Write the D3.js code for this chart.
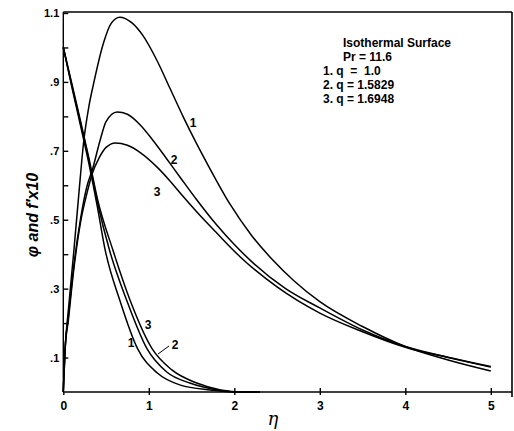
<!DOCTYPE html>
<html><head><meta charset="utf-8">
<script src="https://cdn.jsdelivr.net/npm/d3@7"></script>
<style>body{margin:0;background:#fff}svg{display:block}</style>
</head><body><svg id="c" width="514" height="431"></svg>
<script>
// eta values and curves
const phi1 = [[0,1.0],[0.1,0.885],[0.2,0.775],[0.3,0.662],[0.4,0.535],[0.49,0.412],[0.66,0.267],[0.87,0.125],[1.10,0.055],[1.37,0.020],[1.72,0.006],[2.0,0.0],[2.3,0.0]];
const phi2 = [[0,1.0],[0.1,0.89],[0.2,0.782],[0.3,0.672],[0.4,0.55],[0.54,0.412],[0.74,0.267],[0.98,0.125],[1.21,0.058],[1.48,0.026],[1.80,0.006],[2.05,0.0],[2.3,0.0]];
const phi3 = [[0,1.0],[0.1,0.895],[0.2,0.788],[0.3,0.678],[0.4,0.56],[0.58,0.412],[0.78,0.267],[1.04,0.125],[1.27,0.064],[1.56,0.026],[1.84,0.006],[2.1,0.0],[2.3,0.0]];
const vel1 = [[0,0],[0.02,0.12],[0.06,0.24],[0.12,0.40],[0.18,0.57],[0.24,0.73],[0.3,0.83],[0.35,0.89],[0.47,1.013],[0.56,1.07],[0.66,1.088],[0.8,1.072],[0.93,1.035],[1.1,0.96],[1.25,0.88],[1.4,0.80],[1.55,0.725],[1.7,0.655],[1.95,0.545],[2.2,0.455],[2.45,0.383],[2.7,0.322],[3.0,0.262],[3.5,0.19],[4.0,0.132],[4.5,0.093],[5.0,0.061]];
const vel2 = [[0,0],[0.02,0.12],[0.06,0.22],[0.12,0.36],[0.2,0.50],[0.28,0.60],[0.34,0.645],[0.43,0.73],[0.5,0.785],[0.63,0.813],[0.75,0.806],[0.9,0.775],[1.05,0.73],[1.2,0.68],[1.37,0.622],[1.56,0.558],[1.8,0.483],[2.0,0.428],[2.21,0.377],[2.6,0.30],[3.0,0.244],[3.5,0.18],[4.0,0.132],[4.5,0.101],[5.0,0.074]];
const vel3 = [[0,0],[0.02,0.12],[0.06,0.21],[0.12,0.35],[0.2,0.49],[0.28,0.58],[0.34,0.635],[0.42,0.68],[0.5,0.71],[0.61,0.723],[0.75,0.716],[0.9,0.695],[1.1,0.652],[1.25,0.612],[1.4,0.568],[1.6,0.512],[1.8,0.46],[2.07,0.392],[2.5,0.305],[3.0,0.229],[3.5,0.175],[4.0,0.13],[4.5,0.10],[5.0,0.072]];
const xTicks = [0,1,2,3,4,5];
const yTicks = [0.1,0.2,0.3,0.4,0.5,0.6,0.7,0.8,0.9,1.0,1.1];
const yLabels = {"0.1":".1","0.3":".3","0.5":".5","0.7":".7","0.9":".9","1.1":"1.1"};
const legendLines = ["Isothermal Surface","Pr = 11.6","1. q  =  1.0","2. q = 1.5829","3. q = 1.6948"];

const svg = d3.select("#c");
const x = d3.scaleLinear().domain([0,5]).range([63.3,490.8]);
const y = d3.scaleLinear().domain([0,1.1]).range([392,13]);
const font = "'Liberation Sans', Arial, sans-serif";

// frame
const fr = svg.append("g").attr("stroke","#000").attr("stroke-width",1.6);
fr.append("line").attr("x1",x(0)).attr("x2",512).attr("y1",12).attr("y2",12);
fr.append("line").attr("x1",512).attr("x2",512).attr("y1",12).attr("y2",397);

// axes
const ya = svg.append("g").attr("transform",`translate(${x(0)},0)`)
  .call(d3.axisLeft(y).tickValues(yTicks).tickSize(-5).tickPadding(4)
    .tickFormat(d => yLabels[d.toFixed(1)] || ""));
ya.selectAll("text").attr("font-family",font).attr("font-size",11).attr("font-weight","bold");
ya.selectAll("line,path").attr("stroke-width",1.4);
ya.select(".domain").attr("d",`M0,${y(0)}V12`);

const xa = svg.append("g").attr("transform",`translate(0,${y(0)})`)
  .call(d3.axisBottom(x).tickValues(xTicks).tickSize(3).tickPadding(6).tickFormat(d3.format("d")));
xa.selectAll("text").attr("font-family",font).attr("font-size",12).attr("font-weight","bold");
xa.selectAll("line,path").attr("stroke-width",1.4);
xa.select(".domain").attr("d",`M${x(0)},0H512`);
xa.selectAll(".tick").filter(d=>d>0).append("line").attr("y1",0).attr("y2",-4).attr("stroke","#000").attr("stroke-width",1.4);

// curves
const line = d3.line().x(d=>x(d[0])).y(d=>y(d[1])).curve(d3.curveMonotoneX);
[phi1,phi2,phi3,vel1,vel2,vel3].forEach(s=>{
  svg.append("path").attr("d",line(s)).attr("fill","none").attr("stroke","#000").attr("stroke-width",1.5);
});

// curve labels
const lab = [["1",193,127],["2",174,164],["3",157,196],["1",131,347],["3",148,329],["2",175,349]];
svg.append("g").selectAll("text").data(lab).join("text")
  .attr("x",d=>d[1]).attr("y",d=>d[2]).attr("text-anchor","middle")
  .attr("font-family",font).attr("font-size",12).attr("font-weight","bold").text(d=>d[0]);
svg.append("line").attr("x1",169).attr("y1",346).attr("x2",158).attr("y2",354).attr("stroke","#000").attr("stroke-width",1);

// legend
const lx = [343,343,323,323,323];
svg.append("g").selectAll("text").data(legendLines).join("text")
  .attr("x",(d,i)=>lx[i]).attr("y",(d,i)=>47+i*14)
  .attr("font-family",font).attr("font-size",12).attr("font-weight","bold")
  .attr("xml:space","preserve").style("white-space","pre").text(d=>d);

// axis titles
svg.append("text").attr("transform","translate(38,215) rotate(-90)").attr("text-anchor","middle")
  .attr("font-family",font).attr("font-size",16).attr("font-style","italic").attr("font-weight","bold").text("φ and f′x10");
svg.append("text").attr("x",273).attr("y",425).attr("text-anchor","middle")
  .attr("font-family","'DejaVu Serif', serif").attr("font-size",18).attr("font-style","italic").text("η");
</script></body></html>
